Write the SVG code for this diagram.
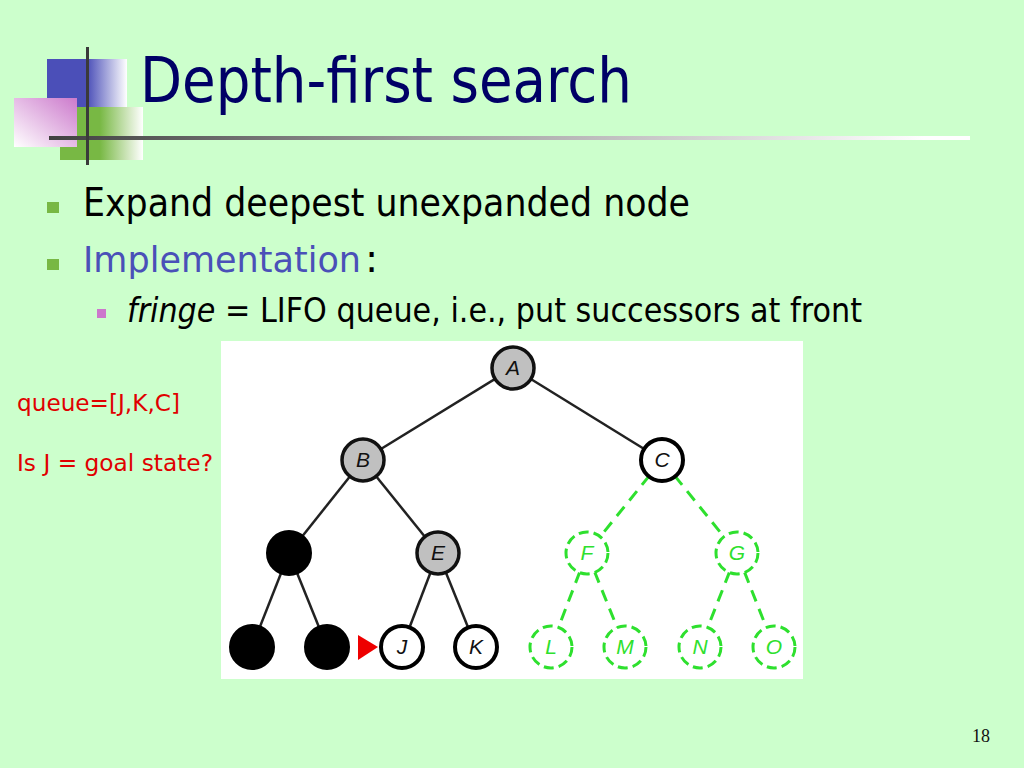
<svg xmlns="http://www.w3.org/2000/svg" width="1024" height="768" viewBox="0 0 1024 768">
<defs>
<linearGradient id="gBlue" x1="0" y1="0" x2="1" y2="0">
<stop offset="0" stop-color="#4b4fb8"/><stop offset="0.5" stop-color="#4b4fb8"/><stop offset="1" stop-color="#ffffff"/>
</linearGradient>
<linearGradient id="gGreen" x1="0" y1="0" x2="1" y2="0">
<stop offset="0" stop-color="#78b844"/><stop offset="0.48" stop-color="#78b844"/><stop offset="1" stop-color="#ffffff"/>
</linearGradient>
<linearGradient id="gPink" x1="1" y1="0" x2="0" y2="1">
<stop offset="0" stop-color="#cc7acc"/><stop offset="1" stop-color="#ffffff"/>
</linearGradient>
<linearGradient id="gLine" x1="49" y1="0" x2="970" y2="0" gradientUnits="userSpaceOnUse">
<stop offset="0" stop-color="#404040"/><stop offset="0.4" stop-color="#9a9a9a"/><stop offset="0.95" stop-color="#ffffff"/><stop offset="1" stop-color="#ffffff"/>
</linearGradient>
</defs>
<style>
.body{font-family:"DejaVu Sans","Liberation Sans",sans-serif;}
.edge{stroke:#222;stroke-width:2.5;fill:none;}
.gedge{stroke:#2ee02e;stroke-width:3;fill:none;stroke-dasharray:12 8;}
.gray{fill:#c0c0c0;stroke:#111;stroke-width:3.5;}
.open{fill:#fff;stroke:#000;stroke-width:4;}
.black{fill:#000;stroke:#000;stroke-width:2;}
.green{fill:#fff;stroke:#2ee02e;stroke-width:3;stroke-dasharray:10 5;}
.lbl{font-family:"Liberation Sans",Arial,sans-serif;font-style:italic;font-size:21px;text-anchor:middle;fill:#111;}
.glbl{font-family:"Liberation Sans",Arial,sans-serif;font-style:italic;font-size:21px;text-anchor:middle;fill:#2ee02e;}
.red{font-family:"DejaVu Sans","Liberation Sans",sans-serif;fill:#e00000;font-size:23px;}
</style>
<rect x="0" y="0" width="1024" height="768" fill="#ccffcc"/>
<g id="logo">
<rect x="47" y="59" width="80" height="48" fill="url(#gBlue)"/>
<rect x="60" y="107" width="83" height="53" fill="url(#gGreen)"/>
<rect x="14" y="98" width="63" height="49" fill="url(#gPink)"/>
<rect x="49" y="136" width="921" height="4" fill="url(#gLine)"/>
<rect x="86" y="47" width="3" height="118" fill="#3a3a3a"/>
</g>
<text id="title" x="140" y="102" font-family="DejaVu Sans, Liberation Sans, sans-serif" font-size="62" fill="#000066" textLength="492" lengthAdjust="spacingAndGlyphs">Depth-first search</text>
<g id="bullets">
<rect x="47" y="202" width="12" height="11" fill="#78b844"/>
<rect x="47" y="259" width="12" height="11" fill="#78b844"/>
<rect x="97" y="309" width="9" height="9" fill="#cc77cc"/>
<text class="body" x="83" y="216" font-size="39" fill="#000" textLength="607" lengthAdjust="spacingAndGlyphs">Expand deepest unexpanded node</text>
<text class="body" x="83" y="272" font-size="35" fill="#4a50b8" textLength="278" lengthAdjust="spacingAndGlyphs">Implementation</text>
<text class="body" x="365" y="272" font-size="39" fill="#000">:</text>
<text class="body" x="127" y="322" font-size="33" fill="#000" textLength="735" lengthAdjust="spacingAndGlyphs"><tspan font-style="italic">fringe</tspan> = LIFO queue, i.e., put successors at front</text>
</g>
<g id="notes">
<text class="red" x="17" y="411" textLength="163" lengthAdjust="spacingAndGlyphs">queue=[J,K,C]</text>
<text class="red" x="17" y="471" textLength="196" lengthAdjust="spacingAndGlyphs">Is J = goal state?</text>
</g>
<text id="page" x="981" y="742" font-family="Liberation Serif, serif" font-size="18" text-anchor="middle" fill="#111">18</text>
<rect id="treebg" x="221" y="341" width="582" height="338" fill="#ffffff"/>
<g id="connectors">
<line class="edge" x1="513" y1="368" x2="363" y2="460"/>
<line class="edge" x1="513" y1="368" x2="662" y2="460"/>
<line class="edge" x1="363" y1="460" x2="289" y2="553"/>
<line class="edge" x1="363" y1="460" x2="438" y2="553"/>
<line class="edge" x1="289" y1="553" x2="252" y2="647"/>
<line class="edge" x1="289" y1="553" x2="327" y2="647"/>
<line class="edge" x1="438" y1="553" x2="402" y2="647"/>
<line class="edge" x1="438" y1="553" x2="476" y2="647"/>
<line class="gedge" x1="662" y1="460" x2="587" y2="553"/>
<line class="gedge" x1="662" y1="460" x2="737" y2="553"/>
<line class="gedge" x1="587" y1="553" x2="551" y2="647"/>
<line class="gedge" x1="587" y1="553" x2="625" y2="647"/>
<line class="gedge" x1="737" y1="553" x2="700" y2="647"/>
<line class="gedge" x1="737" y1="553" x2="774" y2="647"/>
</g>
<g id="node-A"><circle class="gray" cx="513" cy="368" r="21"/><text class="lbl" x="513" y="375">A</text></g>
<g id="node-B"><circle class="gray" cx="363" cy="460" r="21"/><text class="lbl" x="363" y="467">B</text></g>
<g id="node-C"><circle class="open" cx="662" cy="460" r="21"/><text class="lbl" x="662" y="467">C</text></g>
<g id="node-D"><circle class="black" cx="289" cy="553" r="22"/></g>
<g id="node-E"><circle class="gray" cx="438" cy="553" r="21"/><text class="lbl" x="438" y="560">E</text></g>
<g id="node-F"><circle class="green" cx="587" cy="553" r="21"/><text class="glbl" x="587" y="560">F</text></g>
<g id="node-G"><circle class="green" cx="737" cy="553" r="21"/><text class="glbl" x="737" y="560">G</text></g>
<g id="node-H"><circle class="black" cx="252" cy="647" r="22"/></g>
<g id="node-I"><circle class="black" cx="327" cy="647" r="22"/></g>
<g id="node-J"><circle class="open" cx="402" cy="647" r="21"/><text class="lbl" x="402" y="654">J</text></g>
<g id="node-K"><circle class="open" cx="476" cy="647" r="21"/><text class="lbl" x="476" y="654">K</text></g>
<g id="node-L"><circle class="green" cx="551" cy="647" r="21"/><text class="glbl" x="551" y="654">L</text></g>
<g id="node-M"><circle class="green" cx="625" cy="647" r="21"/><text class="glbl" x="625" y="654">M</text></g>
<g id="node-N"><circle class="green" cx="700" cy="647" r="21"/><text class="glbl" x="700" y="654">N</text></g>
<g id="node-O"><circle class="green" cx="774" cy="647" r="21"/><text class="glbl" x="774" y="654">O</text></g>
<polygon id="pointer" points="358,635 358,660 378,647" fill="#ee0000"/>
</svg>
